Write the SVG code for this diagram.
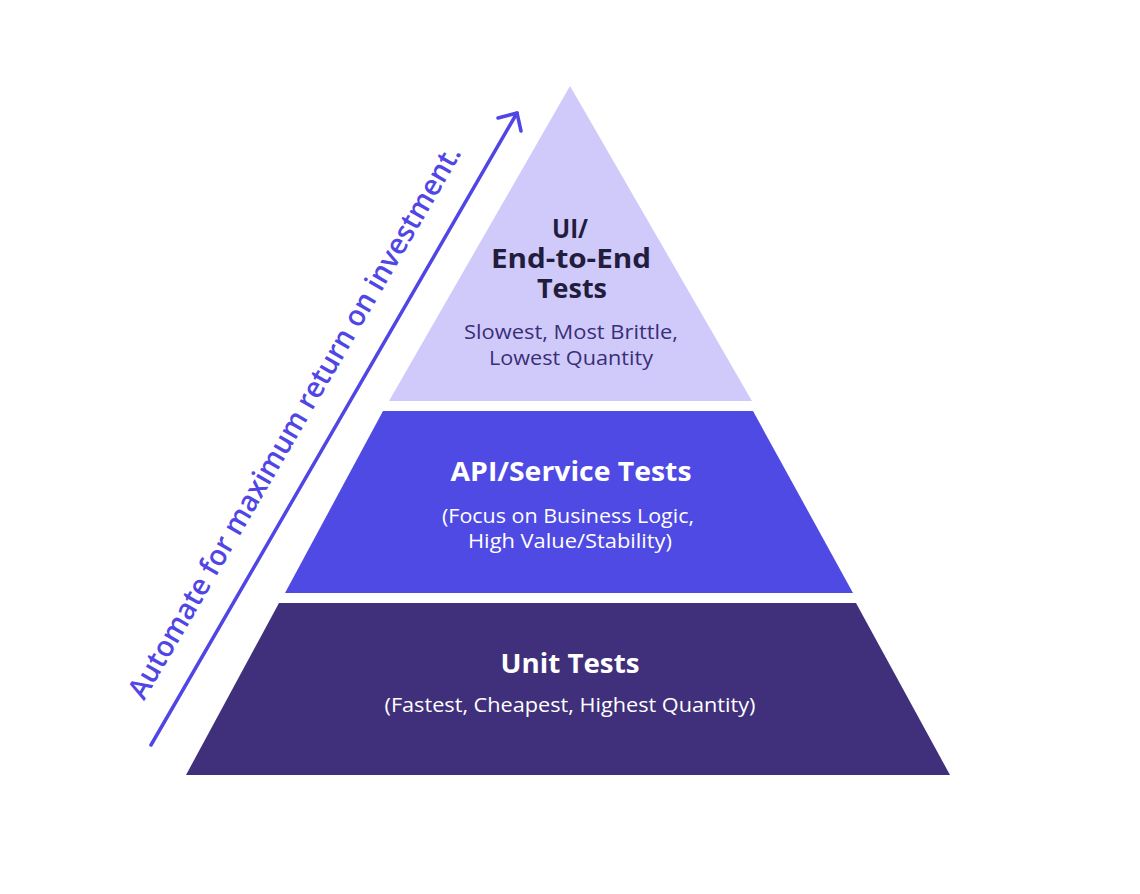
<svg xmlns="http://www.w3.org/2000/svg" width="1140" height="894" viewBox="0 0 1140 894">
  <defs>
    <style>
      .t { font-family: "Open Sans", "Noto Sans", sans-serif; text-anchor: middle; }
      .h { font-weight: 700; font-size: 26px; }
      .s { font-weight: 400; font-size: 20px; }
      .dark { fill: #231d3d; }
      .sub { fill: #3a2e78; }
      .w { fill: #ffffff; }
      .arrow { stroke: #4f46e5; stroke-width: 3.5; fill: none; stroke-linecap: round; stroke-linejoin: round; }
      .lbl { font-family: "Open Sans", "Noto Sans", sans-serif; font-weight: 600; font-size: 29px; fill: #4f46e5; text-anchor: middle; }
    </style>
  </defs>
  <rect width="1140" height="894" fill="#ffffff"/>

  <g id="ui-tests">
    <polygon points="570,86 752,401 389,401" fill="#d0cafb"/>
    <text class="t h dark" x="570" y="238" textLength="36" lengthAdjust="spacingAndGlyphs">UI/</text>
    <text class="t h dark" x="571" y="268" textLength="160" lengthAdjust="spacingAndGlyphs">End-to-End</text>
    <text class="t h dark" x="572" y="298" textLength="70" lengthAdjust="spacingAndGlyphs">Tests</text>
    <text class="t s sub" x="571" y="339" textLength="214" lengthAdjust="spacingAndGlyphs">Slowest, Most Brittle,</text>
    <text class="t s sub" x="571" y="365" textLength="164" lengthAdjust="spacingAndGlyphs">Lowest Quantity</text>
  </g>

  <g id="api-tests">
    <polygon points="383,411 753,411 853,593 285,593" fill="#4f4ae3"/>
    <text class="t h w" x="571" y="481" textLength="241" lengthAdjust="spacingAndGlyphs">API/Service Tests</text>
    <text class="t s w" x="568" y="523" textLength="252" lengthAdjust="spacingAndGlyphs">(Focus on Business Logic,</text>
    <text class="t s w" x="570" y="548" textLength="204" lengthAdjust="spacingAndGlyphs">High Value/Stability)</text>
  </g>

  <g id="unit-tests">
    <polygon points="279,603 856,603 950,775 186,775" fill="#402f7a"/>
    <text class="t h w" x="570" y="673" textLength="139" lengthAdjust="spacingAndGlyphs">Unit Tests</text>
    <text class="t s w" x="570" y="712" textLength="371" lengthAdjust="spacingAndGlyphs">(Fastest, Cheapest, Highest Quantity)</text>
  </g>

  <g id="connectors">
    <line class="arrow" x1="151" y1="745" x2="517" y2="113"/>
    <polyline class="arrow" points="498,118 517,113 521,131"/>
    <text class="lbl" x="303" y="427" transform="rotate(-59.9 303 427)" textLength="634" lengthAdjust="spacingAndGlyphs">Automate for maximum return on investment.</text>
  </g>
</svg>
